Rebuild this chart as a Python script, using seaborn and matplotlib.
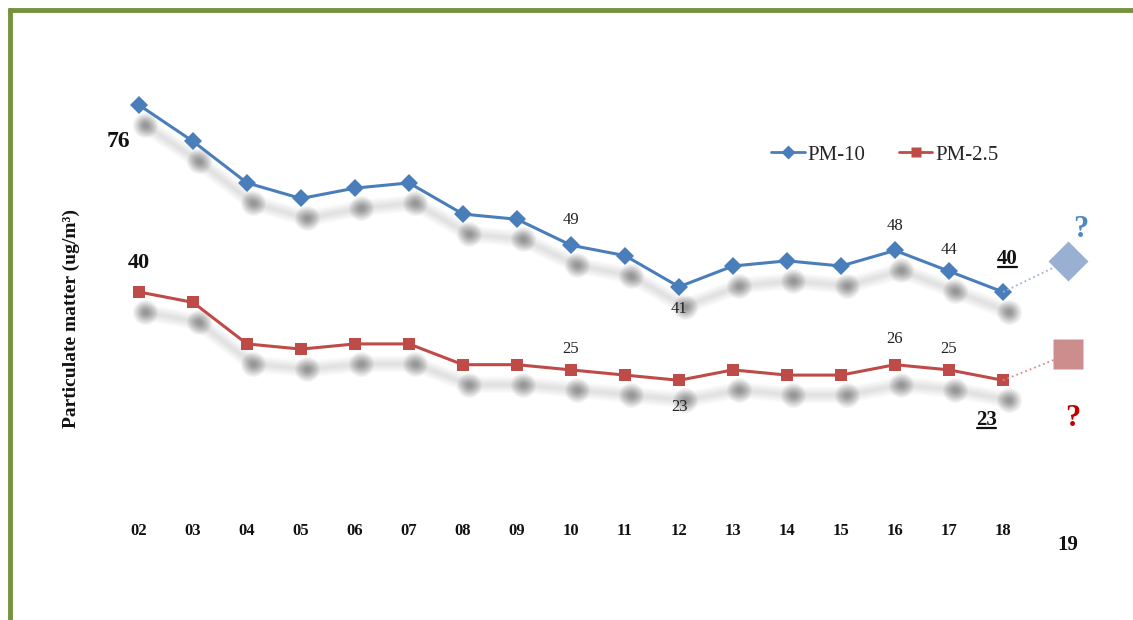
import numpy as np
import pandas as pd
import matplotlib
matplotlib.use("Agg")
import matplotlib.pyplot as plt
import matplotlib.transforms as mtransforms
from matplotlib.lines import Line2D
import seaborn as sns

# ---------------- data ----------------
years = ["02", "03", "04", "05", "06", "07", "08", "09", "10",
         "11", "12", "13", "14", "15", "16", "17", "18"]
pm10 = [76, 69, 61, 58, 60, 61, 55, 54, 49, 47, 41, 45, 46, 45, 48, 44, 40]
pm25 = [40, 38, 30, 29, 30, 30, 26, 26, 25, 24, 23, 25, 24, 24, 26, 25, 23]
forecast_year = "19"
pm10_forecast = 46
pm25_forecast = 28

BLUE = "#4A7EBB"
RED = "#BE4B48"

sns.set_theme(style="white")
plt.rcParams["font.family"] = ["Liberation Serif", "DejaVu Serif"]

fig = plt.figure(figsize=(11.33, 6.2), dpi=100, facecolor="white")
ax = fig.add_axes([100 / 1133, 1 - 505 / 620, 1000 / 1133, 445 / 620])
ax.set_facecolor("none")

xpos = np.arange(len(years))
fpos = len(years) - 1 + 1.2
df = pd.DataFrame({"x": np.concatenate([xpos, xpos]),
                   "value": pm10 + pm25,
                   "series": ["PM-10"] * len(years) + ["PM-2.5"] * len(years)})

# --- soft drop shadows (offset copies of the series, stacked to fake a blur) ---
shadow_off = mtransforms.ScaledTranslation(6 / 100, -20 / 100, fig.dpi_scale_trans)
shadow_tr = ax.transData + shadow_off
for s in ["PM-10", "PM-2.5"]:
    sub = df[df.series == s]
    for lw in np.linspace(12, 2, 6):
        before = len(ax.lines)
        sns.lineplot(data=sub, x="x", y="value", ax=ax, color="#404040",
                     lw=lw, alpha=0.022, legend=False, solid_capstyle="round")
        for ln in ax.lines[before:]:
            ln.set_transform(shadow_tr)
    for ms in np.linspace(18, 4, 9):
        before = len(ax.lines)
        sns.lineplot(data=sub, x="x", y="value", ax=ax, color="#303030",
                     linestyle="none", marker="o", markersize=ms,
                     markeredgewidth=0, alpha=0.055, legend=False)
        for ln in ax.lines[before:]:
            ln.set_transform(shadow_tr)

# --- main series ---
sns.lineplot(data=df, x="x", y="value", hue="series", style="series",
             palette={"PM-10": BLUE, "PM-2.5": RED},
             markers={"PM-10": "D", "PM-2.5": "s"}, dashes=False,
             lw=2.2, markersize=9, markeredgewidth=0, ax=ax, legend=False)

# --- forecast (dotted link + faded marker) ---
fc = pd.DataFrame({"x": [xpos[-1], fpos], "v10": [pm10[-1], pm10_forecast],
                   "v25": [pm25[-1], pm25_forecast]})
ax.plot(fc["x"], fc["v10"], ls=":", color="#9DB5D8", lw=1.3)
ax.plot(fc["x"], fc["v25"], ls=":", color="#D88C8A", lw=1.3)
ax.plot([fpos], [pm10_forecast], marker="D", ms=20, color="#9AB0D3", mec="none")
ax.plot([fpos], [pm25_forecast], marker="s", ms=22, color="#CC8E8C", mec="none")

ax.text(fpos + 0.25, pm10_forecast + 6.0, "?", color="#4F86C6", fontsize=22,
        fontweight="bold", ha="center", va="center")
ax.text(fpos + 0.1, pm25_forecast - 12.3, "?", color="#C00000", fontsize=22,
        fontweight="bold", ha="center", va="center")

# --- data labels ---
idx = {y: i for i, y in enumerate(years)}
small = dict(fontsize=12, color="#222222", ha="center", va="center")
ax.text(idx["02"] - 0.38, 76 - 7.1, "76", fontsize=17, fontweight="bold", color="#111", ha="center", va="center")
ax.text(idx["02"], 40 + 5.6, "40", fontsize=16, fontweight="bold", color="#111", ha="center", va="center")
ax.text(idx["10"], 49 + 4.8, "49", **small)
ax.text(idx["12"], 41 - 4.2, "41", **small)
ax.text(idx["16"], 48 + 4.8, "48", **small)
ax.text(idx["17"], 44 + 4.0, "44", **small)
ax.text(idx["10"], 25 + 4.0, "25", **small)
ax.text(idx["12"], 23 - 5.2, "23", **small)
ax.text(idx["16"], 26 + 5.0, "26", **small)
ax.text(idx["17"], 25 + 4.0, "25", **small)
t40 = ax.text(idx["18"] + 0.08, 40 + 6.4, "40", fontsize=15, fontweight="bold", color="#111", ha="center", va="center")
t23 = ax.text(idx["18"] - 0.3, 23 - 7.6, "23", fontsize=15, fontweight="bold", color="#111", ha="center", va="center")

# --- axes styling ---
ax.set_xlim((100 - 139) / 54, (1100 - 139) / 54)
ax.set_ylim(76 - (505 - 105) / 5.194, 76 + (105 - 60) / 5.194)
ax.set_xticks(xpos)
ax.set_xticklabels(years, fontsize=12, fontweight="bold", color="#111")
ax.tick_params(axis="x", length=0, pad=13)
ax.set_yticks([])
ax.set_xlabel("")
ax.set_ylabel("Particulate matter (ug/m³)", fontsize=14, fontweight="bold", color="#111")
ax.yaxis.set_label_coords(-0.02, 0.42)
for sp in ax.spines.values():
    sp.set_visible(False)
ax.text(fpos, -0.09, forecast_year, transform=ax.get_xaxis_transform(),
        fontsize=15, fontweight="bold", color="#111", ha="center", va="center")

# --- legend ---
handles = [Line2D([], [], color=BLUE, marker="D", ms=7, mec="none", lw=2),
           Line2D([], [], color=RED, marker="s", ms=7, mec="none", lw=2)]
ax.legend(handles, ["PM-10", "PM-2.5"], ncol=2, frameon=False, fontsize=15,
          loc="center", bbox_to_anchor=(0.785, 0.787), handlelength=1.6,
          handletextpad=0.15, columnspacing=1.6)

# --- olive frame (top and left edges) ---
fig.add_artist(Line2D([8 / 1133, 1.0], [1 - 10 / 620, 1 - 10 / 620],
                      transform=fig.transFigure, color="#76923C", lw=3.5,
                      solid_capstyle="butt"))
fig.add_artist(Line2D([10 / 1133, 10 / 1133], [0, 1 - 8 / 620],
                      transform=fig.transFigure, color="#76923C", lw=3.5,
                      solid_capstyle="butt"))

# underline the latest values
fig.canvas.draw()
r = fig.canvas.get_renderer()
for t in (t40, t23):
    bb = t.get_window_extent(r)
    fig.add_artist(Line2D([bb.x0 + 1, bb.x1 - 1], [bb.y0 + 2, bb.y0 + 2],
                          transform=None, color="#111", lw=1.6))

fig.savefig("out.png", dpi=100, facecolor="white")
